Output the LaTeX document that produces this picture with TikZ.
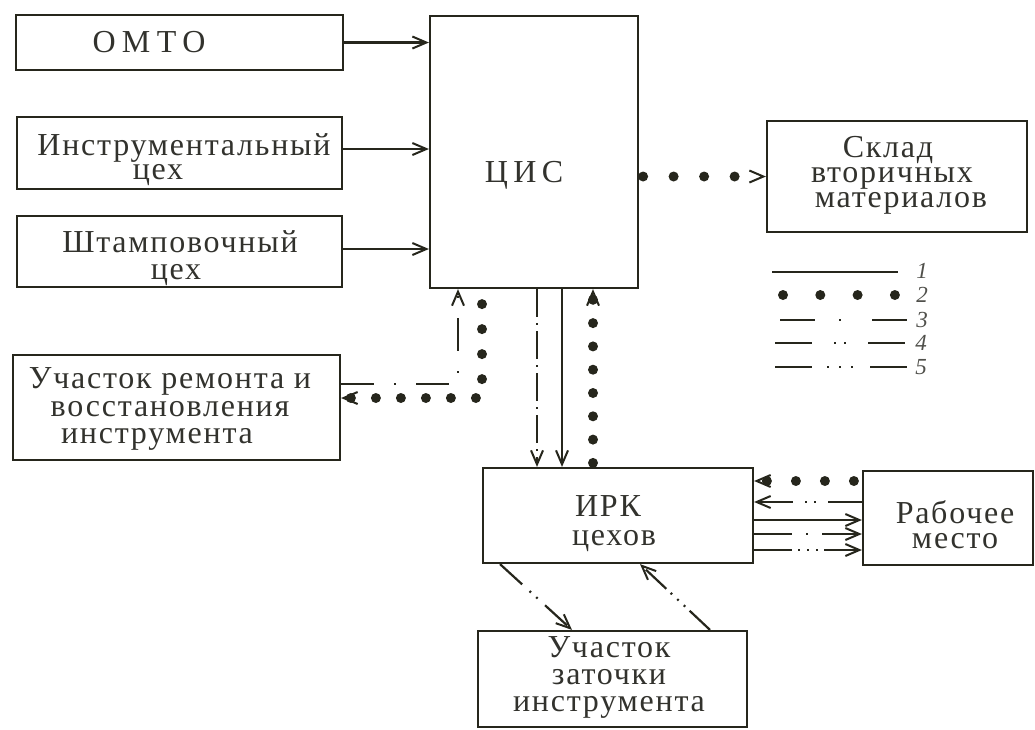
\documentclass[tikz,border=0pt]{standalone}
\usepackage{fontspec}
\setmainfont{Liberation Serif}[LetterSpace=5.5]
\usetikzlibrary{arrows.meta}
\definecolor{ink}{RGB}{38,38,28}
\definecolor{txtc}{RGB}{50,50,45}
\definecolor{numc}{RGB}{80,80,75}
\begin{document}
\begin{tikzpicture}[x=1pt,y=-1pt,
  >={Straight Barb[length=14pt 0 0,width=12pt 0 0,line width=2pt 0 0]},
  box/.style={draw=ink,line width=2.2pt,inner sep=0pt},
  % multi-line caption; every line starts with a strut so that lines sit #1 apart
  lbl/.style={align=center,inner sep=0pt,text=txtc,yshift=2pt,font=\fontsize{32}{#1}\selectfont},
  lbl/.default=27pt,
  % wider tracking for the short capital names
  wide/.style={font=\fontsize{32}{27}\selectfont\addfontfeatures{LetterSpace=#1}},
  num/.style={anchor=base,inner sep=0pt,text=numc,font=\fontsize{23}{26}\selectfont\itshape},
  conn/.style={draw=ink,line width=2.2pt,->},
  bigdots/.style={draw=ink,line width=10pt,line cap=round,dash pattern=on 0pt off #1,->},
  bigdots/.default=25pt,
  oneDot/.style n args={2}{conn,dash pattern=on #1 off #2 on 2pt off #2},
  twoDot/.style n args={2}{conn,dash pattern=on #1 off #2 on 2pt off 7pt on 2pt off #2},
  threeDot/.style n args={2}{conn,dash pattern=on #1 off #2 on 2pt off 7pt on 2pt off 7pt on 2pt off #2},
  legendline/.style={draw=ink,line width=2.2pt}]
\useasboundingbox (0,0) rectangle (1035,729);

% blocks
\node[box,minimum width=327pt,minimum height=55pt] (omto) at (179.5,42.5) {};
\node[box,minimum width=325pt,minimum height=72pt] (instr) at (179.5,153) {};
\node[box,minimum width=325pt,minimum height=71pt] (stamp) at (179.5,251.5) {};
\node[box,minimum width=208pt,minimum height=272pt] (cis) at (534,152) {};
\node[box,minimum width=260pt,minimum height=111pt] (store) at (897,176.5) {};
\node[box,minimum width=327pt,minimum height=105pt] (repair) at (176.5,407.5) {};
\node[box,minimum width=270pt,minimum height=95pt] (irk) at (618,515.5) {};
\node[box,minimum width=170pt,minimum height=94pt] (work) at (948,518) {};
\node[box,minimum width=269pt,minimum height=96pt] (sharp) at (612.5,679) {};

% block captions
\node[lbl,wide=20] (omto-t) at (149,47.6) {\strut ОМТО};
\node[lbl=24pt] (instr-t) at (184,162.2) {\strut Инструментальный\\\hspace*{-52pt}\strut цех};
\node[lbl] (stamp-t) at (180,261.1) {\strut Штамповочный\\\hspace*{-8pt}\strut цех};
\node[lbl,wide=17] (cis-t) at (524,177.6) {\strut ЦИС};
\node[lbl=25pt] (store-t) at (901,178) {\hspace*{-26pt}\strut Склад\\\hspace*{-18pt}\strut вторичных\\\strut материалов};
\node[lbl=27.5pt] (repair-t) at (170,412) {\strut Участок ремонта и\\\strut восстановления\\\hspace*{-26pt}\strut инструмента};
\node[lbl=29pt] (irk-t) at (614,526.7) {\hspace*{-12pt}\strut ИРК\\\strut цехов};
\node[lbl=25pt] (work-t) at (955,530.5) {\strut Рабочее\\\strut место};
\node[lbl] (sharp-t) at (609,679.6) {\strut Участок\\\strut заточки\\\strut инструмента};

% inputs to the central store
\draw[conn] (omto.east) -- (omto.east -| cis.west);
\draw[conn] ([yshift=4pt]instr.east) -- ([yshift=4pt]instr.east -| cis.west);
\draw[conn] ([yshift=2.5pt]stamp.east) -- ([yshift=2.5pt]stamp.east -| cis.west);

% central store to secondary materials
\draw[bigdots=30.5pt] ([xshift=4pt]cis.east |- store.west) -- (store.west);

% repair section links
\draw[oneDot={33pt}{20pt}] ([yshift=23.5pt]repair.east) -| ([xshift=-76pt]cis.south);
\draw[bigdots=25pt] ([xshift=-52pt,yshift=-15pt]cis.south) |- ([yshift=9.5pt]repair.east);

% central store and shop storerooms
\draw[oneDot={28pt}{6pt}] ([xshift=3pt]cis.south) -- ([xshift=3pt]cis.south |- irk.north);
\draw[conn] ([xshift=28pt]cis.south) -- ([xshift=28pt]cis.south |- irk.north);
\draw[bigdots=23.3pt] ([xshift=-25pt,yshift=4pt]irk.north) -- ([xshift=-25pt]irk.north |- cis.south);

% shop storeroom and workplace
\draw[bigdots=29pt] ([xshift=-8pt,yshift=37pt]work.west) -- ([yshift=37pt]work.west -| irk.east);
\draw[twoDot={34pt}{12pt}] ([yshift=16pt]work.west) -- ([yshift=16pt]work.west -| irk.east);
\draw[conn] ([yshift=-2pt]work.west -| irk.east) -- ([yshift=-2pt]work.west);
\draw[oneDot={38pt}{14pt}] ([yshift=-16pt]work.west -| irk.east) -- ([yshift=-16pt]work.west);
\draw[threeDot={38pt}{6pt}] ([yshift=-32pt]work.west -| irk.east) -- ([yshift=-32pt]work.west);

% sharpening section
\draw[twoDot={30pt}{10pt}] ([xshift=-118pt]irk.south) -- ([xshift=-40.5pt]sharp.north);
\draw[threeDot={28pt}{6pt}] ([xshift=97.5pt]sharp.north) -- ([xshift=22pt]irk.south);

% legend
\draw[legendline] (772,272) -- (898,272);
\draw[legendline,line width=10pt,line cap=round,dash pattern=on 0pt off 37.3pt] (783,295) -- (896,295);
\draw[legendline,dash pattern=on 35pt off 24pt on 2pt off 31pt on 35pt off 100pt] (780,320) -- (907,320);
\draw[legendline,dash pattern=on 37pt off 22pt on 2pt off 8pt on 2pt off 22pt on 37pt off 100pt] (775,343) -- (905,343);
\draw[legendline,dash pattern=on 37pt off 15pt on 2pt off 10pt on 2pt off 10pt on 2pt off 17pt on 37pt off 100pt] (775,367) -- (907,367);
\node[num] (n1) at (922,278) {1};
\node[num] (n2) at (922,302) {2};
\node[num] (n3) at (922,327) {3};
\node[num] (n4) at (921,350) {4};
\node[num] (n5) at (921,374) {5};
\end{tikzpicture}
\end{document}
